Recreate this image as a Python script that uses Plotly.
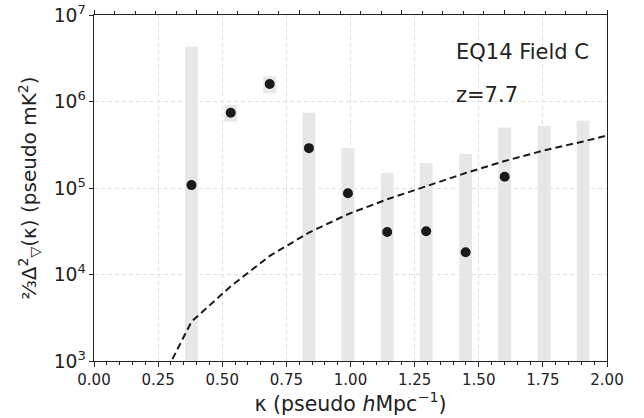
import numpy as np
import plotly.graph_objects as go

# kappa bins (pseudo h/Mpc)
kappa = [0.380, 0.533, 0.685, 0.838, 0.990, 1.143, 1.295, 1.449, 1.601, 1.755, 1.907]
# measured power (None where below the plotted range)
power = [1.08e5, 7.4e5, 1.59e6, 2.89e5, 8.7e4, 3.1e4, 3.16e4, 1.81e4, 1.35e5, None, None]
# error band lower / upper edges (0 means it runs off the bottom)
err_lo = [0, 5.87e5, 1.24e6, 0, 0, 0, 0, 0, 0, 0, 0]
err_hi = [4.3e6, 9.1e5, 1.95e6, 7.4e5, 2.9e5, 1.49e5, 1.95e5, 2.48e5, 5.0e5, 5.2e5, 6.0e5]

# theory / noise curve
curve_k = [0.228, 0.380, 0.533, 0.685, 0.838, 0.990, 1.143, 1.295, 1.449, 1.601, 1.755, 1.907, 2.0]
curve_p = [370, 2.85e3, 7.3e3, 1.64e4, 3.05e4, 4.98e4, 7.4e4, 1.04e5, 1.49e5, 2.05e5, 2.72e5, 3.45e5, 4.05e5]

base = np.where(np.array(err_lo) > 0, err_lo, 1.0)
height = np.array(err_hi) - base

fig = go.Figure()

fig.add_trace(go.Bar(
    x=kappa, y=height, base=base, width=0.05,
    marker=dict(color='#e6e7e9', line=dict(width=0)),
    hoverinfo='skip'
))

fig.add_trace(go.Scatter(
    x=curve_k, y=curve_p, mode='lines',
    line=dict(color='#1a1a1a', width=2, dash='7px,4px'),
))

fig.add_trace(go.Scatter(
    x=kappa, y=power, mode='markers',
    marker=dict(color='#1a1a1a', size=10)
))

# dummy trace to carry the top axis
fig.add_trace(go.Scatter(x=[0, 2], y=[1e4, 1e4], xaxis='x2', mode='markers',
                         marker=dict(opacity=0), hoverinfo='skip', showlegend=False))

font = 'DejaVu Sans'
grid = dict(showgrid=True, gridcolor='#e0e0e0', griddash='4px,3px', gridwidth=1)
fig.update_layout(
    width=644, height=418,
    margin=dict(l=94, r=37, t=15, b=57),
    plot_bgcolor='white', paper_bgcolor='white',
    showlegend=False,
    font=dict(family=font, color='#222222'),
    xaxis=dict(
        range=[0, 2], dtick=0.25, tickformat='.2f', automargin=False,
        ticks='outside', ticklen=5, tickwidth=1, tickcolor='#222',
        minor=dict(dtick=0.05, ticks='outside', ticklen=3, tickcolor='#222', showgrid=False),
        showline=True, linecolor='#222', linewidth=1.2, mirror=False,
        zeroline=False,
        tickfont=dict(size=15),
        title=dict(text='κ (pseudo <i>h</i>Mpc<sup>−1</sup>)', font=dict(size=20.5), standoff=0),
        **grid,
    ),
    xaxis2=dict(
        overlaying='x', side='top', anchor='y', range=[0, 2], dtick=0.4, automargin=False,
        ticks='outside', ticklen=4, tickwidth=1, tickcolor='#222',
        minor=dict(dtick=0.08, ticks='outside', ticklen=2.5, tickcolor='#222'),
        showticklabels=False, showgrid=False, zeroline=False,
        showline=True, linecolor='#222', linewidth=1.2,
    ),
    yaxis=dict(
        type='log', range=[3, 7], dtick=1, exponentformat='power', automargin=False,
        ticks='outside', ticklen=4, tickwidth=1, tickcolor='#222',
        showline=True, linecolor='#222', linewidth=1.2, mirror=True,
        zeroline=False,
        tickfont=dict(size=15),
        title=dict(text='⅔Δ<sup>2</sup><sub>▽</sub>(κ) (pseudo mK<sup>2</sup>)',
                   font=dict(size=20), standoff=11),
        **grid,
    ),
    annotations=[
        dict(text='EQ14 Field C', xref='paper', yref='paper', x=0.702, y=0.892,
             xanchor='left', yanchor='middle', showarrow=False, font=dict(size=21)),
        dict(text='z=7.7', xref='paper', yref='paper', x=0.702, y=0.769,
             xanchor='left', yanchor='middle', showarrow=False, font=dict(size=21)),
    ],
)

fig.write_html('out.html', config={'displayModeBar': False},
               post_script="document.body.style.margin='0';")
